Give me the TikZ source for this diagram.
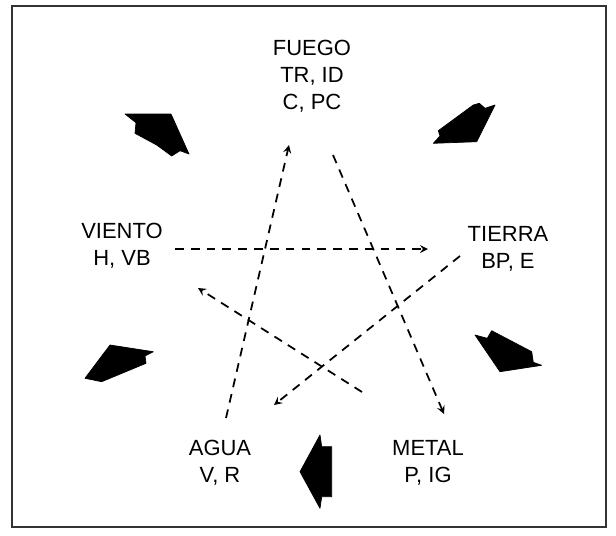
\documentclass[tikz,border=0pt]{standalone}
\usepackage{fontspec}
\setmainfont{Liberation Sans}
\newcommand{\elemfont}{\fontsize{12.5pt}{15.5pt}\selectfont}

\begin{document}
\begin{tikzpicture}[x=0.02cm, y=-0.02cm, every node/.style={align=center, font=\elemfont, inner sep=0pt}, >=stealth]

\tikzstyle{flow}=[->, line width=1pt, dash pattern=on 5pt off 4pt]
\tikzstyle{blob}=[fill=black, draw=black, line width=0.4pt, line join=round]

\useasboundingbox (0,0) rectangle (616,535);
\draw[line width=1pt, black!80] (12,6) rectangle (606,527);

% the five elements
\node (fuego)  at (312,76)  {FUEGO\\TR, ID\\C, PC};
\node (tierra) at (508,249) {TIERRA\\BP, E};
\node (metal)  at (428,463) {METAL\\P, IG};
\node (agua)   at (220,463) {AGUA\\V, R};
\node (viento) at (122,246) {VIENTO\\H, VB};

% ends of the dashed lines
\coordinate (fuegoOut)  at (333,155);
\coordinate (fuegoIn)   at (289,145);
\coordinate (tierraOut) at (460,256);
\coordinate (tierraIn)  at (428,249);
\coordinate (metalOut)  at (362,392);
\coordinate (metalIn)   at (444,414);
\coordinate (aguaOut)   at (226,418);
\coordinate (aguaIn)    at (274,405);
\coordinate (vientoOut) at (175,249);
\coordinate (vientoIn)  at (198,288);

\draw[flow] (fuegoOut) -- (metalIn);
\draw[flow] (tierraOut) -- (aguaIn);
\draw[flow] (aguaOut) -- (fuegoIn);
\draw[flow] (vientoOut) -- (tierraIn);
\draw[flow] (metalOut) -- (vientoIn);

% black arrows round the ring
\fill[blob] (125,114) -- (171,114) -- (189,154) -- (180,150.7) -- (171.7,156)
   -- (156.7,145) -- (135,133.3) -- (136,122.7) -- cycle;
\fill[blob] (433.3,143.3) -- (440,136) -- (438.3,130.7) -- (473.3,105) -- (479.3,103.3)
   -- (485,108.3) -- (495,105) -- (476.7,141.7) -- cycle;
\fill[blob] (475,335) -- (487.3,338.3) -- (491.7,330.7) -- (531.7,351.7) -- (533.3,362.3)
   -- (541.7,365.3) -- (500,371.7) -- cycle;
\fill[blob] (300,471.7) -- (320,435) -- (321.7,446.7) -- (331.7,446.7) -- (331.7,496.7)
   -- (321.7,496.7) -- (320,508.3) -- cycle;
\fill[blob] (85,378.3) -- (110,345) -- (153.3,351.7) -- (145,356) -- (146,363.3)
   -- (101.7,381.7) -- cycle;
\end{tikzpicture}
\end{document}
